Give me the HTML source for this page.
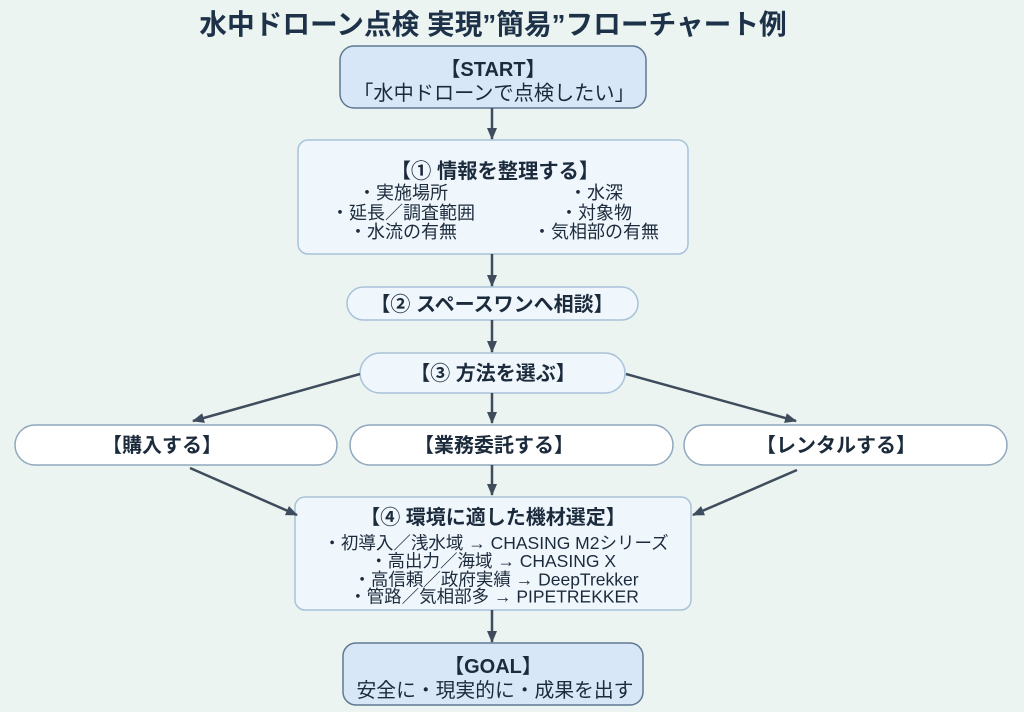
<!DOCTYPE html>
<html><head><meta charset="utf-8"><style>
html,body{margin:0;padding:0;background:#ebf4f0;}
svg{display:block;}
text{font-family:"Liberation Sans","Noto Sans CJK JP",sans-serif;fill:#1c2b3c;}
.b{font-weight:bold;}
</style></head><body>
<svg width="1024" height="712" viewBox="0 0 1024 712" xmlns="http://www.w3.org/2000/svg">
<defs>
<marker id="ah" markerWidth="12" markerHeight="10" refX="11" refY="5" orient="auto" markerUnits="userSpaceOnUse">
<path d="M0,0 L12,5 L0,10 z" fill="#3f4c5d"/>
</marker>
</defs>
<rect width="1024" height="712" fill="#ebf4f0"/>
<text x="493" y="34" text-anchor="middle" class="b" font-size="27.7" style="fill:#1d3149">水中ドローン点検 実現”簡易”フローチャート例</text>

<!-- START -->
<rect x="340" y="46" width="306" height="62" rx="14" fill="#d7e7f8" stroke="#5f7993" stroke-width="1.5"/>
<text x="493" y="76" text-anchor="middle" class="b" font-size="20">【START】</text>
<text x="494" y="100" text-anchor="middle" font-size="20.2">「水中ドローンで点検したい」</text>

<!-- box1 -->
<rect x="298" y="140" width="390" height="114" rx="10" fill="#eff6fc" stroke="#a8c2d9" stroke-width="1.5"/>
<text x="495" y="178" text-anchor="middle" class="b" font-size="20.3">【① 情報を整理する】</text>
<text x="403" y="199" text-anchor="middle" font-size="18">・実施場所</text>
<text x="403" y="219" text-anchor="middle" font-size="18">・延長／調査範囲</text>
<text x="403" y="238" text-anchor="middle" font-size="18">・水流の有無</text>
<text x="596" y="199" text-anchor="middle" font-size="18">・水深</text>
<text x="596" y="219" text-anchor="middle" font-size="18">・対象物</text>
<text x="596" y="238" text-anchor="middle" font-size="18">・気相部の有無</text>

<!-- box2 -->
<rect x="347" y="287" width="291" height="33" rx="16.5" fill="#eff6fc" stroke="#a8c2d9" stroke-width="1.5"/>
<text x="492" y="311" text-anchor="middle" class="b" font-size="20">【② スペースワンへ相談】</text>

<!-- box3 -->
<rect x="360" y="353" width="265" height="40" rx="20" fill="#eff6fc" stroke="#a8c2d9" stroke-width="1.5"/>
<text x="493" y="380" text-anchor="middle" class="b" font-size="20">【③ 方法を選ぶ】</text>

<!-- row -->
<rect x="15" y="425" width="322" height="40" rx="20" fill="#ffffff" stroke="#8fa8be" stroke-width="1.5"/>
<text x="162" y="452" text-anchor="middle" class="b" font-size="20">【購入する】</text>
<rect x="350" y="425" width="323" height="40" rx="20" fill="#ffffff" stroke="#8fa8be" stroke-width="1.5"/>
<text x="494" y="452" text-anchor="middle" class="b" font-size="20">【業務委託する】</text>
<rect x="684" y="425" width="323" height="40" rx="20" fill="#ffffff" stroke="#8fa8be" stroke-width="1.5"/>
<text x="836" y="452" text-anchor="middle" class="b" font-size="20">【レンタルする】</text>

<!-- box4 -->
<rect x="295" y="497" width="396" height="113" rx="10" fill="#eff6fc" stroke="#a8c2d9" stroke-width="1.5"/>
<text x="493" y="524" text-anchor="middle" class="b" font-size="20">【④ 環境に適した機材選定】</text>
<text x="496" y="549" text-anchor="middle" font-size="17.5">・初導入／浅水域 → CHASING M2シリーズ</text>
<text x="493" y="567" text-anchor="middle" font-size="17.5">・高出力／海域 → CHASING X</text>
<text x="496" y="585.5" text-anchor="middle" font-size="17.5">・高信頼／政府実績 → DeepTrekker</text>
<text x="494" y="602.5" text-anchor="middle" font-size="17.5">・管路／気相部多 → PIPETREKKER</text>

<!-- GOAL -->
<rect x="343" y="643" width="300" height="62" rx="13" fill="#d7e7f8" stroke="#5f7993" stroke-width="1.5"/>
<text x="493" y="673" text-anchor="middle" class="b" font-size="20">【GOAL】</text>
<text x="495" y="697" text-anchor="middle" font-size="19.8">安全に・現実的に・成果を出す</text>

<!-- arrows -->
<g stroke="#3f4c5d" stroke-width="2.5" fill="none" marker-end="url(#ah)">
<line x1="492" y1="108" x2="492" y2="139"/>
<line x1="492" y1="254" x2="492" y2="286"/>
<line x1="492" y1="320" x2="492" y2="352"/>
<line x1="360" y1="374" x2="193" y2="421"/>
<line x1="492" y1="393" x2="492" y2="423"/>
<line x1="626" y1="374" x2="796" y2="421"/>
<line x1="190" y1="468" x2="297" y2="515"/>
<line x1="492" y1="465" x2="492" y2="495"/>
<line x1="797" y1="470" x2="693" y2="515"/>
<line x1="492" y1="610" x2="492" y2="642"/>
</g>
</svg>
</body></html>
